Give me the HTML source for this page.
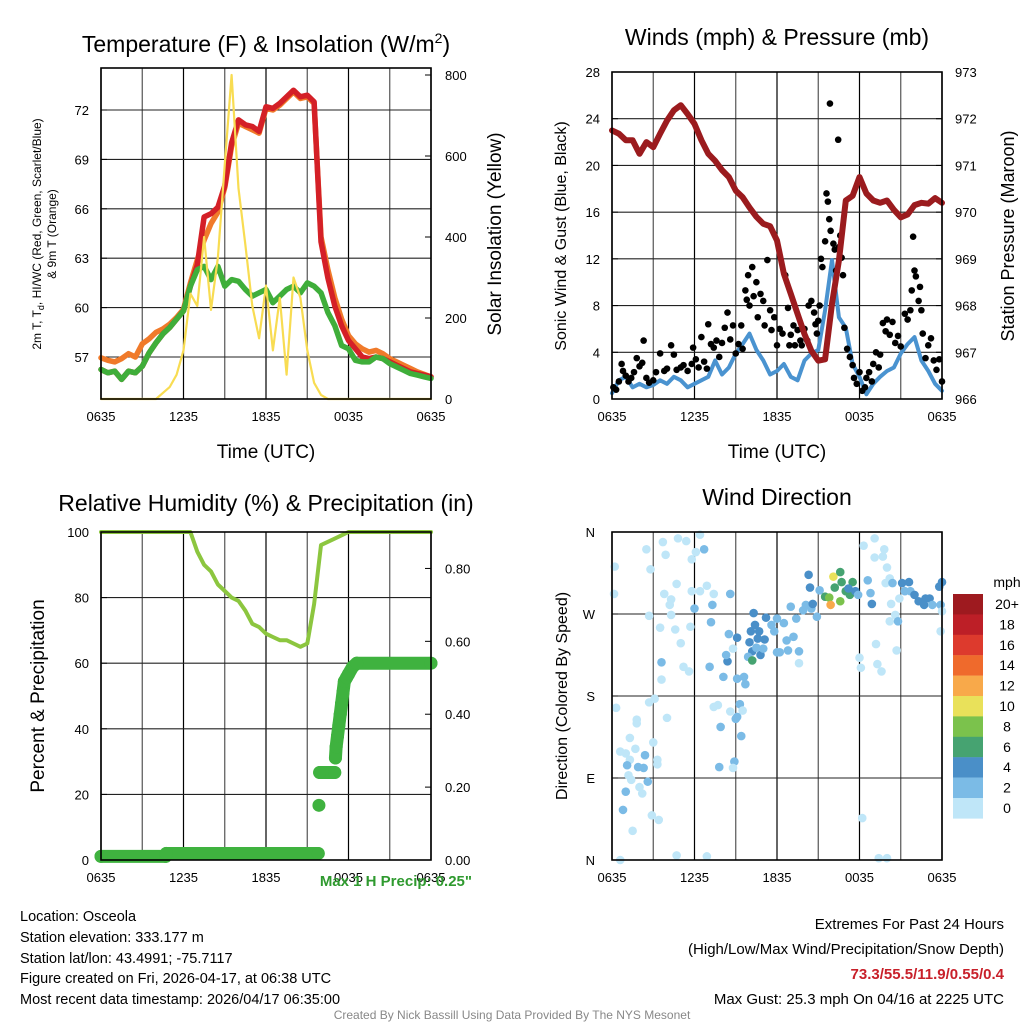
<!DOCTYPE html>
<html><head><meta charset="utf-8"><style>
html,body{margin:0;padding:0;background:#fff;}
svg{display:block;font-family:"Liberation Sans",sans-serif;}
</style></head><body>
<svg id="fig" width="1024" height="1024" viewBox="0 0 1024 1024" xmlns="http://www.w3.org/2000/svg">
<rect width="1024" height="1024" fill="#fff"/>
<g id="root"></g>
<text x="266" y="52" font-size="23" text-anchor="middle">Temperature (F) &amp; Insolation (W/m<tspan font-size="14" dy="-9">2</tspan><tspan dy="9">)</tspan></text>
<text x="777" y="45" font-size="23" text-anchor="middle">Winds (mph) &amp; Pressure (mb)</text>
<text x="266" y="511" font-size="23" text-anchor="middle">Relative Humidity (%) &amp; Precipitation (in)</text>
<text x="777" y="505" font-size="23" text-anchor="middle">Wind Direction</text>
<text x="266" y="458" font-size="19" text-anchor="middle">Time (UTC)</text>
<text x="777" y="458" font-size="19" text-anchor="middle">Time (UTC)</text>
<text transform="translate(41,234) rotate(-90)" font-size="12" text-anchor="middle">2m T, T<tspan font-size="9" dy="3">d</tspan><tspan dy="-3">, HI/WC (Red, Green, Scarlet/Blue)</tspan></text>
<text transform="translate(56,234) rotate(-90)" font-size="12" text-anchor="middle">&amp; 9m T (Orange)</text>
<text transform="translate(501,234) rotate(-90)" font-size="19" text-anchor="middle">Solar Insolation (Yellow)</text>
<text transform="translate(566,236) rotate(-90)" font-size="16" text-anchor="middle">Sonic Wind &amp; Gust (Blue, Black)</text>
<text transform="translate(1014,236) rotate(-90)" font-size="18" text-anchor="middle">Station Pressure (Maroon)</text>
<text transform="translate(44,696) rotate(-90)" font-size="19" text-anchor="middle">Percent &amp; Precipitation</text>
<text transform="translate(567,696) rotate(-90)" font-size="16" text-anchor="middle">Direction (Colored By Speed)</text>
<text x="472" y="886" font-size="15" font-weight="bold" fill="#2f9a2f" text-anchor="end">Max 1 H Precip: 0.25"</text>
<g font-size="14.5">
<text x="20" y="921">Location: Osceola</text>
<text x="20" y="942">Station elevation: 333.177 m</text>
<text x="20" y="963">Station lat/lon: 43.4991; -75.7117</text>
<text x="20" y="983">Figure created on Fri, 2026-04-17, at 06:38 UTC</text>
<text x="20" y="1004">Most recent data timestamp: 2026/04/17 06:35:00</text>
</g>
<g font-size="15" text-anchor="end">
<text x="1004" y="929">Extremes For Past 24 Hours</text>
<text x="1004" y="954">(High/Low/Max Wind/Precipitation/Snow Depth)</text>
<text x="1004" y="979" fill="#c8202a" font-weight="bold">73.3/55.5/11.9/0.55/0.4</text>
<text x="1004" y="1004">Max Gust: 25.3 mph On 04/16 at 2225 UTC</text>
</g>
<text x="512" y="1019" font-size="12" fill="#888" text-anchor="middle">Created By Nick Bassill Using Data Provided By The NYS Mesonet</text>
</svg>
<script>
// ---- data (half-hour samples from 0635 UTC, index*0.5 hours) ----
const timeLabels = ["0635","1235","1835","0035","0635"];
const tempTicks = [57,60,63,66,69,72];
const insolTicks = [0,200,400,600,800];
const orangeT = [56.95,56.8,56.7,56.9,57.2,57.0,57.8,58.1,58.5,58.7,59.0,59.4,59.9,61.5,62.9,64.1,65.1,65.8,67.3,69.8,71.2,71.0,70.8,70.6,72.1,72.0,72.3,72.7,73.1,72.7,72.8,72.4,64.3,62.3,60.6,59.3,58.3,57.8,57.5,57.3,57.4,57.2,56.9,56.7,56.5,56.3,56.1,55.95,55.8];
const redT = [56.24,56.04,56.14,55.64,56.14,56.04,56.44,57.25,57.86,58.4,58.8,59.3,59.8,61.3,62.6,65.5,65.7,66.1,67.4,70.0,71.4,71.1,71.0,70.7,72.2,72.1,72.4,72.8,73.2,72.8,72.9,72.5,64.0,61.8,60.1,58.9,58.0,57.5,57.0,56.9,57.0,56.9,56.7,56.5,56.3,56.1,56.0,55.9,55.8];
const greenTd = [56.24,56.04,56.14,55.64,56.14,56.04,56.44,57.25,57.86,58.4,58.8,59.3,59.8,61.3,62.3,62.5,61.7,62.5,61.3,61.7,61.6,61.1,60.7,60.9,61.1,60.3,60.7,61.1,61.3,60.9,61.5,61.3,60.9,59.7,58.9,57.7,57.5,56.8,56.7,56.7,57.0,56.9,56.6,56.4,56.2,56.0,55.9,55.8,55.7];
const insolation = [0,0,0,0,0,0,0,0,0,15,30,60,120,260,230,400,220,350,580,800,520,380,230,150,280,120,250,60,300,250,120,40,10,0,0,0,0,0,0,0,0,0,0,0,0,0,0,0,0];
const windTicks = [0,4,8,12,16,20,24,28];
const presTicks = [966,967,968,969,970,971,972,973];
const pressure = [971.75,971.68,971.54,971.54,971.25,971.5,971.39,971.68,971.96,972.18,972.29,972.1,971.89,971.54,971.25,971.1,970.9,970.75,970.46,970.32,970.1,969.9,969.75,969.7,969.39,968.68,968.25,967.82,967.39,967.03,966.82,966.85,968.04,968.96,970.25,970.35,970.75,970.4,970.25,970.2,970.25,970.05,969.89,969.95,970.15,970.2,970.18,970.3,970.2];
const sonicWind = [0.5,1.6,1.9,1.0,1.3,1.0,1.2,1.6,1.3,1.9,1.6,1.0,1.3,1.6,1.9,3.3,2.1,2.7,3.9,4.7,5.6,4.2,3.3,2.1,2.4,3.0,1.9,1.6,3.3,3.9,4.2,7.6,11.9,7.0,6.1,3.0,1.9,0.4,1.3,1.9,2.4,2.7,3.9,4.7,5.3,3.3,2.4,1.3,0.7];
const gustHours = [0.1,0.3,0.5,0.7,0.8,1.0,1.2,1.4,1.6,1.8,2.0,2.2,2.3,2.5,2.7,3.0,3.2,3.5,3.8,4.0,4.3,4.5,4.7,5.0,5.2,5.5,5.8,5.9,6.1,6.3,6.5,6.7,6.9,7.0,7.2,7.4,7.6,7.8,8.0,8.2,8.4,8.6,8.8,9.0,9.2,9.4,9.5,9.7,9.8,9.9,10.0,10.2,10.3,10.5,10.6,10.8,11.0,11.1,11.3,11.5,11.6,11.8,12.0,12.2,12.4,12.6,12.8,12.9,13.0,13.2,13.3,13.5,13.7,13.8,14.0,14.2,14.3,14.5,14.7,14.8,14.9,15.0,15.1,15.2,15.3,15.85,15.5,15.6,15.7,15.8,15.9,16.45,16.1,16.2,16.3,16.5,16.6,16.7,16.8,16.9,17.1,17.3,17.5,17.6,17.8,18.0,18.2,18.4,18.5,18.7,18.9,19.0,19.2,19.4,19.5,19.7,19.9,20.0,20.2,20.4,20.6,20.8,21.0,21.3,21.5,21.7,21.8,21.9,22.0,22.1,22.3,22.4,22.5,22.6,22.8,23.0,23.2,23.4,23.6,23.8,24.0];
const gustMph = [1.0,0.8,1.5,3.0,2.4,2.0,1.5,1.8,2.3,3.5,2.8,3.1,5.0,1.8,1.4,1.6,2.3,3.9,2.4,2.6,4.6,3.8,2.5,2.7,2.9,2.4,3.0,4.4,3.4,2.7,5.3,3.2,2.6,6.4,4.7,4.4,5.0,3.6,4.8,6.1,7.4,5.1,6.3,3.9,4.7,6.3,4.3,9.3,8.5,10.6,8.0,11.3,8.8,10.0,7.0,9.0,8.4,6.3,11.9,7.6,5.9,7.0,4.6,6.0,5.6,10.6,7.8,4.6,5.5,6.3,4.6,5.9,5.0,4.6,6.0,5.0,8.0,8.4,7.4,6.4,5.6,6.7,8.0,12.0,11.3,25.3,13.5,17.6,16.9,15.4,14.4,22.2,13.3,12.8,11.0,13.0,14.0,12.1,10.6,6.1,4.3,3.6,2.9,1.8,1.3,2.3,0.7,1.0,1.8,2.3,1.5,3.0,4.0,2.7,3.8,6.5,5.8,6.8,5.5,6.6,4.8,5.4,4.5,7.3,6.8,7.6,9.3,13.9,11.0,10.5,8.4,9.6,7.6,5.6,3.5,4.6,5.2,3.3,2.5,3.4,1.5];
const rhTicks = [0,20,40,60,80,100];
const precipTicks = ["0.00","0.20","0.40","0.60","0.80"];
const relHum = [100,100,100,100,100,100,100,100,100,100,100,100,100,100,94,90,88,84,82,80,79,76,72,71,69,68,67,67,66,65,66,78,96,97,98,99,100,100,100,100,100,100,100,100,100,100,100,100,100];
const precipHours = [0,4.7,4.75,15.8,15.85,15.9,17.0,17.05,17.1,17.2,17.3,17.4,17.5,17.6,17.7,17.85,18.0,18.3,18.6,24];
const precipIn = [0.01,0.01,0.018,0.018,0.15,0.24,0.24,0.28,0.31,0.34,0.37,0.40,0.43,0.46,0.49,0.50,0.51,0.53,0.54,0.54];
const dirLabels = ["N","W","S","E","N"];
const dirHours = [0.2,0.15,2.5,2.8,3.7,3.9,4.8,5.4,6.4,6.1,6.7,5.8,4.7,3.8,4.3,4.2,5.8,6.4,6.9,7.4,6.0,7.3,8.6,2.7,3.5,4.3,4.6,5.7,7.2,5.0,5.2,5.6,3.6,3.6,7.1,8.1,8.4,8.3,8.8,8.5,9.1,9.1,9.6,9.7,10.3,11.2,10.4,10.1,10.7,11.1,10.0,10.6,10.2,10.8,9.9,10.2,10.5,11.0,11.6,11.8,12.0,12.5,12.7,13.2,12.0,12.8,13.6,12.2,13.6,13.0,13.4,13.9,14.1,14.5,14.9,14.6,14.3,14.4,15.1,15.5,15.8,15.9,16.1,16.2,16.6,16.7,16.6,17.0,17.3,17.5,17.7,17.9,17.2,18.6,18.8,18.9,19.1,18.3,19.1,19.7,19.8,20.0,20.2,19.9,20.4,20.3,20.9,20.6,20.2,20.8,19.2,20.7,18.0,18.1,19.3,19.6,18.2,19.4,20.0,21.1,21.6,21.3,21.7,22.0,22.3,22.8,23.1,22.7,23.3,23.8,24.0,23.9,24.0,23.9,0.3,3.1,2.7,1.8,1.8,4.0,1.3,3.0,1.7,0.6,1.0,1.3,1.1,2.4,2.3,1.9,3.3,3.3,1.2,1.4,2.6,2.0,2.2,1.0,0.8,2.9,3.4,1.5,0.6,4.7,6.9,7.7,7.4,8.6,9.3,9.5,9.1,9.0,7.9,9.4,7.8,8.9,8.8];
const dirDeg = [322,292,341,319,349,335,353,350,357,338,341,330,303,292,286,280,295,295,301,292,276,280,292,268,255,269,253,256,261,238,212,207,217,198,212,201,218,225,232,248,244,199,201,193,271,266,258,251,251,242,239,243,229,225,223,219,233,232,258,251,265,260,241,245,228,230,229,228,216,278,265,274,280,276,267,281,313,299,296,289,288,280,311,299,316,305,284,295,291,305,295,291,298,307,293,281,353,345,332,333,341,321,309,304,304,281,287,269,262,262,237,230,222,211,215,207,46,2,2,304,305,295,295,291,284,287,287,280,280,300,305,280,273,251,167,177,173,154,150,156,134,129,122,119,117,110,104,115,101,102,110,105,93,88,86,80,73,75,55,49,44,32,0,5,4,170,168,163,171,164,157,155,146,136,102,108,101];
const dirSpeed = [1,1,1,1,1,1,1,1,1,1,3,1,1,1,1,1,1,1,1,1,3,3,3,1,1,1,1,1,3,1,1,1,3,1,3,3,5,3,1,3,5,3,3,3,5,5,5,5,5,5,5,5,5,5,3,7,3,3,3,3,3,3,3,3,3,3,3,3,1,3,3,3,3,3,3,5,5,5,3,7,9,13,11,7,7,7,9,7,7,7,5,3,5,3,3,5,1,1,1,1,1,1,1,1,3,1,1,1,1,3,1,1,1,1,1,1,1,1,1,5,5,3,3,5,5,5,5,5,3,5,5,3,1,1,1,1,1,1,1,1,1,1,1,1,1,1,3,3,3,3,1,1,1,1,3,1,1,3,3,1,1,1,1,1,1,1,1,1,3,1,3,3,3,3,3,3,1,5,1,1,1];
const cbLabels = ["20+","18","16","14","12","10","8","6","4","2","0"];
const cbColors = ["#9e1a1f","#bd1f27","#dd3a2d","#ef6a2c","#f8a94a","#e9e15a","#7bc24c","#46a371","#4a8fc8","#7bbbe6","#bfe6f8"];

// ---- rendering ----
const NS="http://www.w3.org/2000/svg";
const root=document.getElementById('root');
function mk(tag,attrs,parent){const e=document.createElementNS(NS,tag);for(const k in attrs)e.setAttribute(k,attrs[k]);(parent||root).appendChild(e);return e;}
function lin(d0,d1,r0,r1){return v=>r0+(v-d0)*(r1-r0)/(d1-d0);}
function hoursOf(arr){return arr.map((_,i)=>i*0.5);}
function frame(g,P){
  for(let k=0;k<=8;k++){const x=P.x0+k*(P.x1-P.x0)/8;const l=mk('line',{x1:x,y1:P.y0,x2:x,y2:P.y1,stroke:k%2?'#555':'#000','stroke-width':1.2},g);
  
  }
  timeLabels.forEach((t,k)=>{const x=P.x0+k*(P.x1-P.x0)/4;const tx=mk('text',{x:x,y:P.y1+22,'font-size':13,'text-anchor':'middle'},g);tx.textContent=t;
  
  });
}
function border(g,P){const r=mk('rect',{x:P.x0,y:P.y0,width:P.x1-P.x0,height:P.y1-P.y0,fill:'none',stroke:'#000','stroke-width':1.6},g);

}
function hgrid(g,P,y){const l=mk('line',{x1:P.x0,y1:y,x2:P.x1,y2:y,stroke:'#222','stroke-width':1.1},g);

}
function ylab(g,x,y,t,anchor,name){const tx=mk('text',{x:x,y:y+5,'font-size':13,'text-anchor':anchor},g);tx.textContent=t;

}
function tick(g,x,y,dx){mk('line',{x1:x,y1:y,x2:x+dx,y2:y,stroke:'#000','stroke-width':1},g);}
function path(g,xs,ys,col,w,name){const d=xs.map((x,i)=>(i?'L':'M')+x.toFixed(1)+','+ys[i].toFixed(1)).join('');
const p=mk('path',{d:d,fill:'none',stroke:col,'stroke-width':w,'stroke-linejoin':'round','stroke-linecap':'round'},g);

return p;}

// Panel 1: temperature
(function(){
const P={x0:101,x1:431,y0:68,y1:399};
const g=mk('g',{});


const X=lin(0,24,P.x0,P.x1), Y=lin(57,72,357,110), YI=lin(0,800,399,75);
frame(g,P);
tempTicks.forEach(t=>{hgrid(g,P,Y(t));tick(g,P.x0,Y(t),6);ylab(g,P.x0-12,Y(t),String(t),'end','temp-tick-label');});
insolTicks.forEach(t=>{tick(g,P.x1,YI(t),-6);ylab(g,P.x1+14,YI(t),String(t),'start','insolation-tick-label');});
const hx=hoursOf(redT).map(X);
path(g,hx,orangeT.map(Y),'#f07a2a',5.5,'orange-9m-temp-line');
path(g,hx,redT.map(Y),'#d42027',5.5,'red-2m-temp-line');
path(g,hx,greenTd.map(Y),'#3fae3a',5.5,'green-dewpoint-line');
path(g,hoursOf(insolation).map(X),insolation.map(YI),'#f8dc52',2.2,'yellow-insolation-line');
border(g,P);
})();

// Panel 2: winds & pressure
(function(){
const P={x0:612,x1:942,y0:72,y1:399};
const g=mk('g',{});


const X=lin(0,24,P.x0,P.x1), Y=lin(0,28,399,72), YP=lin(966,973,399,72);
frame(g,P);
windTicks.forEach(t=>{hgrid(g,P,Y(t));tick(g,P.x0,Y(t),6);ylab(g,P.x0-12,Y(t),String(t),'end','wind-tick-label');});
presTicks.forEach(t=>{tick(g,P.x1,YP(t),-6);ylab(g,P.x1+13,YP(t),String(t),'start','pressure-tick-label');});
path(g,hoursOf(sonicWind).map(X),sonicWind.map(Y),'#4a93d0',4,'sonic-wind-line');
gustHours.forEach((h,i)=>{const c=mk('circle',{cx:X(h),cy:Y(gustMph[i]),r:3.3,fill:'#000'},g);

});
path(g,hoursOf(pressure).map(X),pressure.map(YP),'#9b1b1e',6,'pressure-line');
border(g,P);
})();

// Panel 3: RH & precip
(function(){
const P={x0:101,x1:431,y0:532,y1:860};
const g=mk('g',{});


const X=lin(0,24,P.x0,P.x1), Y=lin(0,100,860,532), YR=lin(0,0.9,860,532);
frame(g,P);
rhTicks.forEach(t=>{hgrid(g,P,Y(t));tick(g,P.x0,Y(t),6);ylab(g,P.x0-12,Y(t),String(t),'end','rh-tick-label');});
precipTicks.forEach(t=>{tick(g,P.x1,YR(+t),-6);ylab(g,P.x1+14,YR(+t),t,'start','precip-tick-label');});
path(g,hoursOf(relHum).map(X),relHum.map(Y),'#8cc63f',4,'rh-line');
const px=precipHours.map(X), py=precipIn.map(YR);
for(let i=1;i<px.length;i++){
  if(Math.abs(precipIn[i]-precipIn[i-1])<0.035){
    const l=mk('line',{x1:px[i-1],y1:py[i-1],x2:px[i],y2:py[i],stroke:'#3fb23f','stroke-width':13,'stroke-linecap':'round'},g);
    
    
  }
}
px.forEach((x,i)=>{const c=mk('circle',{cx:x,cy:py[i],r:6.5,fill:'#3fb23f'},g);

});
border(g,P);
})();

// Panel 4: wind direction
(function(){
const P={x0:612,x1:942,y0:532,y1:860};
const g=mk('g',{});


const X=lin(0,24,P.x0,P.x1), Y=lin(360,0,532,860);
frame(g,P);
dirLabels.forEach((t,k)=>{const y=Y(360-k*90);hgrid(g,P,y);tick(g,P.x0,y,6);ylab(g,P.x0-17,y,t,'end','direction-tick-label');});
dirHours.forEach((h,i)=>{const idx=Math.min(10,Math.floor(dirSpeed[i]/2));const c=mk('circle',{cx:X(h),cy:Y(dirDeg[i]),r:4.3,fill:cbColors[10-idx]},g);

});
border(g,P);
const cb=mk('g',{});


const u=mk('text',{x:1007,y:587,'font-size':14,'text-anchor':'middle'},cb);u.textContent='mph';
cbLabels.forEach((t,k)=>{const y=594+k*20.4;
const r=mk('rect',{x:953,y:y,width:30,height:20.6,fill:cbColors[k]},cb);


const tx=mk('text',{x:1007,y:y+15,'font-size':14,'text-anchor':'middle'},cb);tx.textContent=t;

});
})();
</script>
</body></html>
